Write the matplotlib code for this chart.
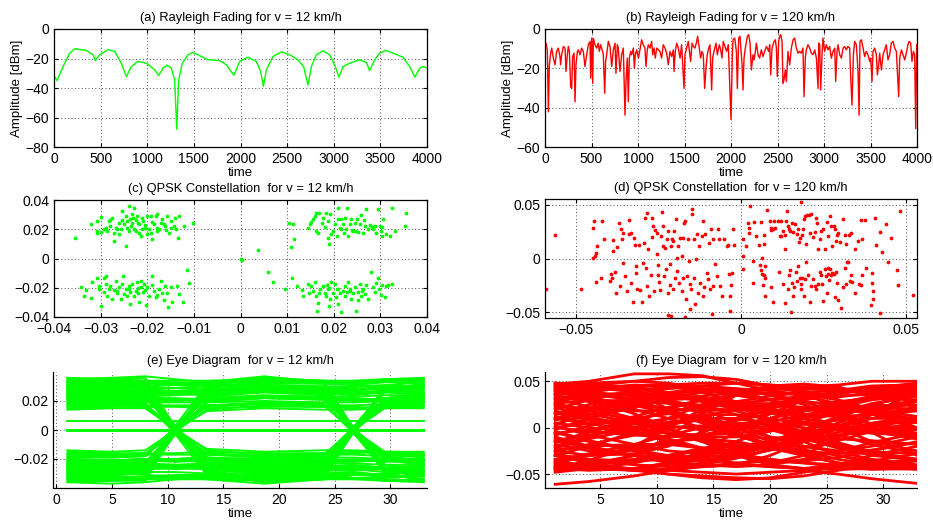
import numpy as np
import matplotlib
matplotlib.use('Agg')
import matplotlib.pyplot as plt
from matplotlib.ticker import FuncFormatter

plt.rcParams['font.family'] = ['Liberation Sans', 'DejaVu Sans']
plt.rcParams['font.size'] = 9.5
plt.rcParams['axes.unicode_minus'] = True

# (a) fading, v = 12 km/h  (time, dB)
fad12_t = [0, 32, 97, 168, 222, 347, 418, 443, 490, 579, 651, 722, 776, 829, 901, 990, 1080, 1122,
           1169, 1212, 1258, 1294, 1316, 1337, 1376, 1437, 1491, 1580, 1651, 1777, 1848, 1930, 1991,
           2080, 2170, 2216, 2245, 2277, 2349, 2438, 2527, 2617, 2677, 2724, 2760, 2813, 2885, 2956,
           3010, 3056, 3099, 3171, 3278, 3350, 3385, 3439, 3492, 3557, 3653, 3742, 3814, 3871, 3921,
           3957, 4000]
fad12_db = [-31.8, -35, -25.5, -16.4, -13.4, -14.5, -17.5, -21.4, -17.5, -14, -15.2, -23.2, -32.3,
            -25.5, -22, -23.2, -27.7, -31.6, -26.6, -24.5, -26.6, -34.5, -68, -34.5, -23.2, -17.5,
            -15.9, -18.6, -20.9, -21.4, -24.3, -31.4, -22, -19.1, -22, -28.9, -38.9, -27.7, -18.6,
            -15.5, -17.5, -20.9, -25.5, -38, -25.5, -17.5, -14.8, -17.5, -24.3, -32.7, -25.5, -23.2,
            -20.9, -22.7, -28.2, -20.9, -16.4, -14.5, -16.8, -19.1, -25.5, -32.7, -26.6, -25.5, -26.4]

# (b) fading, v = 120 km/h  (time, dB)
fad120_t = [0, 11, 25, 36, 47, 61, 72, 90, 108, 125, 143, 161, 168, 179, 197, 215, 226, 240, 251, 262,
            276, 287, 297, 312, 323, 333, 348, 358, 376, 394, 412, 430, 448, 466, 484, 491, 502, 513,
            520, 538, 556, 573, 584, 599, 609, 627, 642, 652, 663, 681, 699, 717, 735, 753, 763, 778,
            788, 806, 824, 842, 860, 871, 885, 896, 907, 921, 932, 950, 961, 971, 986, 1004, 1021,
            1039, 1057, 1075, 1086, 1100, 1111, 1129, 1147, 1158, 1172, 1186, 1201, 1219, 1236, 1254,
            1272, 1290, 1308, 1326, 1344, 1362, 1380, 1387, 1401, 1416, 1434, 1452, 1469, 1495, 1505,
            1523, 1541, 1552, 1566, 1581, 1595, 1613, 1631, 1641, 1659, 1674, 1688, 1702, 1717, 1731,
            1745, 1760, 1774, 1792, 1803, 1817, 1839, 1853, 1874, 1889, 1903, 1917, 1935, 1953, 1971,
            1989, 2000, 2015, 2022, 2040, 2058, 2068, 2083, 2097, 2111, 2119, 2129, 2140, 2154, 2176,
            2190, 2205, 2219, 2237, 2248, 2262, 2273, 2291, 2308, 2326, 2344, 2362, 2380, 2391, 2405,
            2416, 2427, 2441, 2463, 2477, 2488, 2498, 2513, 2524, 2534, 2549, 2559, 2570, 2584, 2595,
            2613, 2631, 2649, 2667, 2685, 2703, 2721, 2739, 2756, 2774, 2785, 2799, 2810, 2828, 2846,
            2864, 2882, 2900, 2918, 2936, 2943, 2954, 2964, 2979, 2989, 3007, 3025, 3043, 3061, 3079,
            3097, 3115, 3126, 3140, 3151, 3169, 3187, 3205, 3222, 3240, 3258, 3276, 3287, 3301, 3316,
            3330, 3348, 3366, 3377, 3387, 3402, 3420, 3437, 3455, 3473, 3491, 3502, 3516, 3527, 3545,
            3563, 3574, 3588, 3599, 3617, 3635, 3652, 3670, 3688, 3706, 3724, 3742, 3760, 3778, 3803,
            3814, 3832, 3850, 3868, 3885, 3903, 3914, 3932, 3946, 3961, 3975, 3986, 3997, 4000]
fad120_db = [-8.0, -7.2, -10.6, -42.1, -18.2, -12.3, -9.7, -14.8, -18.2, -11.4, -9.7, -14.0, -18.2,
             -13.1, -8.9, -9.7, -21.6, -13.1, -8.9, -11.4, -29.3, -30.2, -14.0, -12.3, -37.0, -18.2,
             -11.4, -10.6, -13.1, -9.7, -11.4, -19.1, -13.1, -8.0, -6.3, -25.0, -4.6, -27.6, -4.9,
             -8.0, -9.7, -7.2, -11.4, -8.0, -9.7, -13.1, -32.7, -16.5, -13.1, -6.3, -8.9, -19.1,
             -10.6, -7.2, -22.5, -8.0, -9.7, -21.6, -13.1, -9.7, -43.8, -26.7, -14.8, -37.0, -14.8,
             -11.4, -13.1, -9.7, -19.9, -13.1, -10.6, -14.8, -10.6, -5.5, -8.0, -9.7, -19.1, -10.6,
             -8.0, -9.7, -6.3, -13.1, -9.7, -14.8, -9.7, -10.6, -11.4, -14.8, -8.0, -9.7, -12.3,
             -18.2, -11.4, -14.0, -10.6, -21.6, -11.4, -7.2, -9.7, -14.8, -8.0, -30.2, -13.1, -9.7,
             -6.3, -10.6, -16.5, -7.2, -8.9, -9.7, -6.3, -3.7, -9.7, -14.8, -11.4, -13.1, -30.2,
             -19.9, -13.1, -9.7, -8.0, -31.0, -14.8, -11.4, -7.2, -13.1, -8.0, -10.6, -14.8, -6.3,
             -8.9, -11.4, -8.0, -31.9, -46.0, -12.3, -5.5, -4.6, -11.4, -30.2, -4.6, -3.7, -13.1,
             -18.2, -31.0, -14.8, -9.7, -3.7, -2.9, -7.2, -20.8, -13.1, -15.7, -11.4, -7.2, -13.1,
             -14.8, -10.6, -14.0, -11.4, -8.9, -9.7, -11.4, -8.0, -23.3, -9.7, -6.3, -5.5, -9.7,
             -24.2, -6.3, -3.7, -2.9, -6.3, -27.6, -25.9, -20.8, -26.7, -11.4, -18.2, -9.7, -5.5,
             -4.6, -9.7, -12.3, -11.4, -12.3, -9.7, -34.4, -14.8, -10.6, -8.0, -9.7, -12.3, -13.1,
             -10.6, -14.8, -30.2, -7.2, -8.0, -31.0, -13.1, -4.6, -11.4, -8.0, -10.6, -8.9, -14.8,
             -11.4, -9.7, -26.7, -11.4, -8.0, -13.1, -14.8, -9.7, -8.9, -10.6, -8.9, -9.7, -24.2,
             -38.7, -13.1, -6.3, -8.0, -21.6, -43.8, -6.3, -5.5, -9.7, -14.0, -11.4, -13.1, -16.5,
             -14.8, -26.7, -11.4, -9.7, -13.1, -23.3, -18.2, -12.3, -20.8, -13.1, -10.6, -8.0, -15.7,
             -13.1, -7.2, -6.3, -9.7, -11.4, -34.4, -14.8, -10.6, -13.1, -15.7, -12.3, -8.0, -6.3,
             -7.2, -16.5, -11.4, -13.1, -50.6, -8.0, -9.7]

# (c) constellation, v = 12 km/h  (I, Q in units of 1e-3)
con12 = [(-35.4, 14.3), (-32.1, 23.4), (-30.7, 25.7), (-30.0, 28.6), (-29.3, 20.0), (-30.7, 18.9),
         (-30.7, 17.3), (-30.0, 18.2), (-28.9, 20.7), (-28.2, 25.7), (-27.9, 26.1), (-27.5, 28.0),
         (-28.6, 18.9), (-27.1, 17.7), (-27.1, 12.0), (-26.8, 21.1), (-26.4, 20.0), (-26.1, 24.5),
         (-25.7, 20.0), (-25.4, 32.5), (-25.0, 23.4), (-24.6, 29.1), (-24.6, 8.6), (-24.3, 21.1),
         (-24.3, 25.7), (-23.9, 35.9), (-23.6, 26.8), (-23.2, 30.2), (-23.2, 24.5), (-22.9, 34.8),
         (-22.9, 20.0), (-22.5, 26.4), (-22.1, 29.1), (-21.8, 23.4), (-21.8, 17.7), (-21.4, 15.5),
         (-21.1, 20.0), (-21.1, 28.0), (-20.4, 21.1), (-20.0, 29.1), (-19.6, 20.0), (-19.3, 17.7),
         (-19.3, 29.1), (-18.9, 13.2), (-18.6, 23.4), (-18.2, 29.1), (-17.9, 21.1), (-17.9, 30.2),
         (-17.5, 20.0), (-17.1, 24.5), (-16.8, 26.8), (-16.4, 23.4), (-16.1, 22.3), (-15.7, 29.1),
         (-15.4, 17.7), (-15.0, 25.7), (-14.3, 22.3), (-14.1, 28.0), (-13.9, 20.0), (-13.2, 29.1),
         (-13.4, 13.9), (-12.1, 22.3), (-10.1, 24.1), (-23.5, 22.0), (-22.0, 24.0), (-21.0, 25.5),
         (-20.5, 23.0), (-24.0, 19.0), (-25.5, 26.5), (-19.0, 25.0), (-18.0, 19.0), (-26.0, 17.0),
         (-22.5, 18.5), (-20.0, 16.5), (-23.0, 28.0), (-28.0, 22.0), (-16.0, 19.5), (-15.0, 21.0),
         (-34.3, -19.8), (-33.6, -25.5), (-33.2, -21.6), (-32.1, -27.3), (-31.8, -15.9), (-30.7, -13.4),
         (-30.4, -19.1), (-30.4, -20.9), (-30.0, -32.7), (-29.3, -13.0), (-29.3, -22.7), (-28.9, -17.5),
         (-28.9, -11.8), (-28.6, -25.5), (-28.2, -20.9), (-27.9, -18.6), (-27.5, -27.7), (-27.1, -21.6),
         (-26.8, -15.2), (-26.4, -23.6), (-26.1, -19.8), (-25.7, -27.7), (-25.4, -17.5), (-25.1, -11.8),
         (-25.0, -24.3), (-24.6, -20.9), (-24.3, -25.5), (-23.9, -18.6), (-23.7, -31.1), (-23.6, -22.7),
         (-23.2, -17.5), (-22.9, -25.5), (-22.5, -22.0), (-22.3, -16.4), (-22.0, -23.6), (-21.8, -30.0),
         (-21.4, -19.8), (-21.3, -15.2), (-20.9, -23.2), (-20.6, -17.5), (-20.2, -31.8), (-20.0, -19.8),
         (-19.6, -25.5), (-18.9, -11.8), (-18.6, -22.0), (-18.2, -26.6), (-17.9, -25.0), (-17.5, -20.9),
         (-17.1, -15.2), (-16.8, -23.6), (-16.4, -28.2), (-16.1, -18.6), (-15.7, -23.6), (-15.5, -33.4),
         (-15.0, -19.8), (-14.6, -29.5), (-13.6, -18.6), (-13.2, -24.3), (-12.3, -29.5), (-11.4, -7.7),
         (-11.1, -16.8), (-24.0, -21.0), (-22.0, -20.0), (-20.5, -21.5), (-26.5, -22.5), (-19.0, -18.0),
         (0.0, 0.0), (0.3, -1.0), (3.8, 5.7), (5.9, -9.5), (6.9, -16.4), (10.4, 24.5), (11.3, 23.9),
         (11.5, 13.2), (10.8, 8.2), (11.1, -13.0), (9.5, -20.9),
         (14.5, 21.1), (14.9, 23.4), (15.2, 25.0), (15.6, 26.8), (15.9, 29.1), (16.3, 30.9), (16.3, 18.9),
         (16.6, 17.7), (16.9, 31.4), (17.4, 24.1), (17.8, 28.0), (18.1, 21.8), (18.4, 31.4), (18.8, 25.7),
         (18.9, 9.8), (19.1, 30.2), (18.8, 14.3), (19.5, 16.6), (19.9, 18.9), (20.2, 23.4), (20.6, 15.5),
         (20.9, 34.8), (20.9, 26.8), (21.3, 21.1), (21.6, 27.3), (21.6, 20.0), (22.0, 23.4), (22.2, 17.3),
         (22.4, 28.0), (22.7, 20.0), (22.9, 34.8), (23.1, 15.5), (23.4, 23.4), (23.8, 26.8), (23.9, 19.3),
         (24.1, 18.9), (24.5, 18.9), (24.5, 24.5), (24.9, 26.8), (25.2, 18.2), (25.6, 23.4), (25.9, 29.5),
         (26.3, 17.7), (26.5, 26.4), (26.6, 22.3), (26.9, 34.1), (27.4, 20.0), (27.7, 22.7), (28.1, 21.8),
         (28.4, 20.0), (28.8, 22.3), (29.1, 17.3), (29.5, 34.1), (29.9, 22.3), (30.2, 18.9), (30.4, 21.8),
         (30.6, 26.8), (30.4, 15.5), (31.3, 16.6), (32.0, 15.5), (32.5, 34.8), (33.1, 18.9), (35.2, 22.3),
         (35.4, 30.9),
         (12.2, -19.1), (13.1, -21.4), (13.4, -25.5), (14.5, -17.5), (14.6, -23.6), (15.2, -18.6),
         (15.6, -22.0), (15.9, -15.9), (16.1, -25.5), (16.6, -30.5), (16.8, -23.6), (17.0, -20.9),
         (16.4, -35.7), (17.8, -18.6), (18.1, -23.6), (18.4, -25.5), (18.6, -18.2), (18.8, -20.9),
         (18.9, -32.3), (19.1, -27.7), (19.5, -16.4), (19.9, -23.6), (20.2, -17.5), (20.4, -26.6),
         (20.8, -20.9), (20.9, -31.1), (21.3, -23.6), (21.6, -36.4), (22.0, -22.3), (22.4, -18.6),
         (22.5, -25.5), (22.9, -23.2), (23.1, -16.4), (23.4, -20.9), (23.8, -27.7), (24.1, -23.6),
         (24.5, -19.8), (24.7, -35.7), (25.1, -28.6), (25.2, -23.2), (25.6, -17.5), (25.9, -25.5),
         (26.3, -20.9), (26.6, -24.3), (26.9, -18.2), (27.4, -27.7), (27.9, -9.5), (28.4, -19.8),
         (28.8, -23.2), (29.1, -16.8), (29.5, -13.6), (29.6, -20.9), (30.1, -25.0), (30.4, -18.2),
         (30.9, -26.6), (31.3, -18.6), (31.6, -18.2), (32.5, -17.5), (21.0, -21.0), (23.5, -22.5),
         (19.0, -20.0), (26.0, -22.0)]

# (d) constellation, v = 120 km/h  (I, Q in units of 1e-3)
con120 = [(-59.1, -28.6), (-56.4, 21.7), (-48.5, -28.6), (-44.9, 28.9), (-44.7, 34.8), (-44.9, 0.9),
          (-44.2, 2.5), (-43.7, 11.8), (-43.9, 5.6), (-42.4, -18.6), (-42.0, 35.4), (-41.4, 18.0),
          (-44.1, -21.7), (-39.5, -14.6), (-39.7, -20.8), (-39.2, -18.0), (-38.9, 7.1), (-38.7, 17.1),
          (-38.2, -12.4), (-37.7, 11.2), (-37.9, -31.7), (-37.1, 32.9), (-36.7, -25.5), (-36.4, 27.3),
          (-35.9, 23.6), (-36.2, 18.0), (-35.9, -3.7), (-35.2, -16.1), (-34.6, -30.1), (-34.1, 36.0),
          (-34.1, 22.7), (-33.4, -23.0), (-33.3, 24.2), (-32.8, -41.0), (-32.4, 19.6), (-32.1, 12.4),
          (-31.9, -6.8), (-31.9, -13.7), (-31.6, -28.6), (-31.0, 12.7), (-30.6, -29.2), (-30.1, -41.0),
          (-29.8, -3.7), (-29.4, 14.9), (-29.0, 38.2), (-28.8, -8.4), (-28.4, 42.2), (-28.4, -25.5),
          (-28.1, 9.3), (-27.8, -35.4), (-27.4, -14.9), (-27.1, 20.2), (-26.9, 38.2), (-26.6, 30.4),
          (-26.3, -30.1), (-26.1, 26.7), (-25.6, 23.6), (-25.4, 4.0), (-25.3, -15.5), (-25.1, -6.2),
          (-24.8, -21.7), (-24.6, -29.2), (-24.3, 21.1), (-24.0, 43.5), (-23.7, 11.8), (-23.5, 30.4),
          (-23.3, -16.1), (-23.0, 10.2), (-22.7, -9.9), (-22.5, 18.0), (-22.0, 25.8), (-22.0, -31.7),
          (-21.5, -24.8), (-21.5, -5.3), (-21.2, 11.8), (-20.9, 18.0), (-20.7, 16.5), (-20.5, -28.0),
          (-20.3, 25.8), (-20.0, -17.7), (-19.7, 36.6), (-19.5, 0.9), (-19.3, -11.5), (-19.0, 11.8),
          (-18.7, -22.4), (-18.5, 19.6), (-18.0, -30.1), (-17.9, 2.5), (-17.7, 19.6), (-17.5, -18.6),
          (-17.3, 33.5), (-16.9, 35.1), (-16.7, -37.3), (-16.5, -16.1), (-16.0, 18.0), (-15.7, -2.2),
          (-15.5, -23.9), (-15.3, -28.6), (-14.9, 41.3), (-14.8, 46.0), (-14.4, 18.0), (-14.2, -18.6),
          (-13.9, -42.5), (-13.6, 0.0), (-13.4, 22.7), (-13.1, -31.7), (-12.6, 11.8), (-12.4, -23.0),
          (-11.9, 21.1), (-11.6, -34.8), (-11.4, 35.1), (-11.1, -27.0), (-10.8, 22.7), (-10.4, -13.7),
          (-9.9, -19.3), (-9.6, 14.9), (-9.4, -28.0), (-9.2, 27.3), (-8.9, -51.9), (-8.6, -25.5),
          (-8.4, 18.6), (-7.9, -5.3), (-7.4, -16.1), (-6.9, 27.3), (-6.6, 18.6), (-6.4, -25.5),
          (-5.9, -34.8), (-5.1, 18.0), (-4.3, 11.8), (-4.1, 12.4), (-3.8, -14.6), (-3.5, -34.8),
          (-3.1, -24.8), (-2.8, -13.7), (-3.3, -48.8), (-22.2, -52.8), (-21.2, -54.0), (-17.0, -55.0),
          (-15.5, -47.2), (-2.4, 27.3), (-2.1, 12.4), (0.6, 2.5), (0.6, 18.0), (1.6, 11.8), (2.6, 49.1),
          (2.1, 33.5), (2.3, 28.9), (2.4, 23.6), (3.6, -2.2), (4.0, 34.2), (4.6, 21.1), (5.4, 12.4),
          (5.9, 34.2), (6.2, 0.9), (6.9, 21.7), (7.0, 13.4), (7.2, -6.8), (8.0, 45.3), (8.7, 35.1),
          (9.0, 28.9), (9.2, 26.7), (9.7, 27.3), (10.0, 35.1), (10.2, 28.9), (11.2, 35.1), (11.7, 21.1),
          (12.2, 35.1), (12.2, 21.1), (12.7, 25.8), (13.2, 21.7), (13.4, 9.3), (13.7, 35.1), (14.0, 44.4),
          (14.2, 30.4), (14.4, 27.3), (14.7, 25.8), (15.3, 33.5), (15.8, 24.8), (16.2, 32.0), (16.8, 22.7),
          (17.3, 27.3), (17.5, 15.5), (17.8, 19.6), (18.3, 52.8), (18.5, 21.7), (18.8, 27.3), (19.1, 37.3),
          (19.5, 39.8), (19.8, 13.4), (20.1, 40.7), (20.5, 40.4), (20.8, 24.2), (21.3, 41.3), (21.8, 20.5),
          (22.3, 24.8), (22.8, 38.2), (23.1, 33.5), (23.3, 9.3), (23.8, 18.0), (24.3, 25.8), (24.8, 27.3),
          (25.4, 9.3), (25.9, 34.2), (26.4, 21.1), (26.9, 39.8), (27.2, 30.4), (27.6, 11.8), (28.2, 30.4),
          (28.4, 27.3), (28.9, 16.5), (29.2, 21.7), (29.4, 24.2), (29.9, 15.5), (30.9, 37.3), (31.4, 21.7),
          (31.9, 13.4), (32.6, 21.7), (33.4, 24.2), (34.4, 9.3), (35.5, 16.5), (36.3, 36.0), (36.5, 18.6),
          (37.5, 36.0), (40.5, 38.2), (41.0, 12.4), (42.0, 24.8), (42.8, 6.2), (44.0, 32.0), (45.5, 19.6),
          (48.3, 44.4), (0.6, -9.3), (3.6, -23.0), (5.7, -6.2), (6.0, -10.6), (6.2, -14.6), (6.5, -24.8),
          (7.0, -15.5), (7.2, -34.8), (7.2, -17.7), (9.2, -27.0), (9.7, -40.4), (11.4, -12.4),
          (12.7, -23.9), (13.4, -41.6), (14.2, -28.6), (14.5, -15.5), (14.7, -10.6), (15.3, -23.0),
          (15.8, -34.8), (16.1, -26.1), (16.5, -13.0), (16.8, -20.8), (17.3, -6.8), (17.8, -17.7),
          (18.1, -28.0), (18.3, -23.9), (18.5, -18.6), (19.1, -34.8), (19.3, -19.3), (19.8, -3.1),
          (20.3, -15.5), (20.8, -40.4), (21.3, -25.5), (21.8, -19.3), (22.3, -25.5), (22.8, -28.0),
          (23.3, -23.9), (23.8, -12.4), (24.1, -15.5), (24.6, -23.9), (24.8, -39.4), (25.4, -9.9),
          (25.6, -16.1), (25.9, -32.3), (26.2, -8.4), (26.4, -14.6), (26.6, -19.9), (26.9, -9.3),
          (27.2, -15.5), (27.6, -13.7), (28.2, -14.6), (28.6, -36.3), (28.9, -12.4), (29.2, -22.4),
          (29.4, -38.5), (30.2, -46.6), (30.9, -27.0), (31.4, -8.4), (31.9, -23.9), (32.2, -3.1),
          (32.4, -3.1), (32.9, -20.8), (33.4, -15.5), (33.6, -21.7), (34.4, -32.3), (35.7, -23.9),
          (36.3, -24.8), (36.7, -15.5), (38.0, -8.4), (39.7, -23.0), (39.7, -13.7), (40.0, -30.1),
          (40.0, -37.9), (39.5, -43.5), (42.0, -50.9), (44.6, -3.1), (47.1, -10.6), (47.6, -24.8),
          (52.1, -34.2), (15.1, -50.3)]

# (e) eye diagram, v = 12 km/h: traces sampled at eye12_t (values in 1e-3)
eye12_t = [1, 5, 8, 10.7, 13.5, 18.7, 24, 26.7, 29.5, 33]
eye12 = [
    [30, 31, 32, 31, 30, 31, 30, 30, 31, 30], [27, 28, 29, 29, 28, 30, 27, 1, -24, -28],
    [25, 26, 24, 0, -22, -25, -23, -1, 21, 25], [33, 34, 32, 2, -28, -33, -31, -30, -32, -31],
    [22, 23, 22, 1, -19, -22, -21, -20, -22, -21], [20, 21, 22, 21, 20, 22, 21, 1, -18, -21],
    [35, 36, 37, 35, 33, 34, 33, 33, 34, 35], [18, 19, 18, 0, -16, -19, -18, 0, 16, 18],
    [32, 33, 31, 1, -27, -31, -30, -29, -31, -32], [24, 24, 25, 25, 24, 26, 24, 1, -21, -24],
    [29, 30, 28, 27, 28, 30, 29, 29, 28, 29], [16, 17, 16, 1, -14, -17, -16, -15, -16, -17],
    [34, 35, 36, 1, -30, -36, -34, -1, 30, 34], [26, 27, 27, 27, 26, 28, 27, 26, 27, 26],
    [21, 21, 22, 22, 21, 23, 22, 1, -19, -21], [31, 32, 30, 1, -27, -30, -29, -1, 27, 31],
    [14, 15, 15, 0, -13, -15, -14, -14, -15, -15], [28, 29, 30, 31, 33, 37, 33, 31, 30, 29],
    [23, 24, 23, 24, 25, 27, 25, 1, -20, -23], [19, 20, 19, 19, 19, 20, 19, 19, 20, 19],
    [-31, -32, -33, -32, -31, -32, -31, -31, -32, -31], [-28, -29, -28, -1, 25, 28, 27, 1, -24, -28],
    [-25, -26, -25, -25, -24, -26, -25, 0, 22, 25], [-33, -34, -33, -2, 29, 33, 32, 31, 33, 32],
    [-22, -23, -22, -1, 19, 22, 21, 20, 22, 21], [-20, -21, -20, -20, -19, -21, -20, -1, 18, 20],
    [-36, -37, -36, -34, -33, -34, -33, -33, -34, -35], [-18, -19, -18, 0, 16, 19, 18, 0, -16, -18],
    [-30, -31, -30, -1, 27, 30, 29, 28, 30, 31], [-24, -25, -24, -24, -23, -25, -24, -1, 21, 24],
    [-27, -28, -27, -26, -27, -29, -28, -28, -27, -28], [-16, -17, -16, -1, 14, 17, 16, 15, 16, 17],
    [-34, -35, -35, -1, 30, 36, 34, 1, -30, -34], [-26, -27, -26, -27, -26, -28, -27, -26, -27, -26],
    [-21, -22, -21, -22, -21, -23, -22, -1, 19, 21], [-29, -30, -29, -1, 26, 29, 28, 1, -26, -29],
    [-14, -15, -14, 0, 13, 15, 14, 14, 15, 15], [-29, -30, -31, -32, -34, -37, -34, -31, -30, -29],
    [-23, -24, -23, -24, -25, -26, -25, -1, 20, 23], [-20, -21, -20, -20, -19, -20, -19, -19, -20, -20],
    [0, 0, 0, 0, 0, 0, 0, 0, 0, 0], [6, 6, 6, 6, 6, 6, 6, 6, 6, 6],
    [33, 33, 33, 32, 31, 32, 32, 32, 33, 33], [-33, -33, -32, -31, -31, -32, -32, -33, -33, -32],
    [26, 27, 26, 0, -23, -26, -25, -24, -26, -25], [-26, -27, -26, 0, 23, 26, 25, 24, 26, 25],
    [17, 18, 17, 17, 17, 18, 17, 0, -15, -17], [-17, -18, -17, -17, -17, -18, -17, 0, 15, 17],
    [35, 34, 33, 1, -29, -34, -33, -1, 30, 35], [-35, -34, -33, -1, 29, 34, 33, 1, -30, -35],
    [22, 22, 21, 21, 22, 23, 22, 22, 21, 22], [-22, -22, -21, -21, -22, -23, -22, -22, -21, -22],
    [31, 31, 30, 3, -25, -30, -29, 2, 27, 31], [-31, -31, -30, -3, 25, 30, 29, -2, -27, -31],
    [28, 28, 27, 26, 27, 29, 28, -2, -26, -29], [-28, -28, -27, -26, -27, -29, -28, 2, 26, 29],
    [24, 25, 24, -3, -22, -24, -23, -23, -24, -24], [-24, -25, -24, 3, 22, 24, 23, 23, 24, 24],
    [19, 19, 18, -2, -17, -19, -18, 2, 17, 19], [-19, -19, -18, 2, 17, 19, 18, -2, -17, -19],
    [32, 32, 33, 33, 32, 34, 32, -2, -28, -32], [-32, -32, -33, -33, -32, -34, -32, 2, 28, 32],
    [15, 16, 16, 16, 15, 16, 16, 16, 15, 16], [-15, -16, -16, -16, -15, -16, -16, -16, -15, -16],
    [36, 35, 34, -3, -31, -35, -34, -33, -35, -36], [-36, -35, -34, 3, 31, 35, 34, 33, 35, 36],
    [25, 25, 26, 26, 25, 27, 26, 25, 26, 25], [-25, -25, -26, -26, -25, -27, -26, -25, -26, -25],
    [23, 23, 22, 2, -20, -23, -22, -2, 20, 23], [-23, -23, -22, -2, 20, 23, 22, 2, -20, -23],
    [29, 29, 29, -2, -26, -29, -28, -27, -29, -28], [-29, -29, -29, 2, 26, 29, 28, 27, 29, 28],
    [21, 21, 20, 20, 21, 22, 21, 21, 20, 21], [-21, -21, -20, -20, -21, -22, -21, -21, -20, -21],
    [27, 26, 25, 25, 26, 27, 26, 26, 27, 27], [-27, -26, -25, -25, -26, -27, -26, -26, -27, -27],
    [17, 17, 18, -2, -16, -18, -17, -17, -18, -17], [-17, -17, -18, 2, 16, 18, 17, 17, 18, 17],
    [30, 30, 29, 29, 30, 31, 30, 2, -27, -30], [-30, -30, -29, -29, -30, -31, -30, -2, 27, 30],
    [34, 34, 34, 34, 34, 35, 34, 34, 35, 34], [-34, -34, -34, -34, -34, -35, -34, -34, -35, -34],
    [-1, -1, -1, -1, -1, -1, -1, -1, -1, -1]]

# (f) eye diagram, v = 120 km/h: traces sampled at eye120_t (values in 1e-3)
eye120_t = [1, 4, 8, 11, 14, 17, 20, 23, 26, 29, 33]
eye120 = [
    [48, 45, 38, 20, -5, -25, -38, -30, -10, 15, 40], [-45, -40, -30, -10, 15, 35, 44, 38, 20, -5, -30],
    [30, 38, 45, 47, 40, 25, 5, -15, -30, -38, -42], [-20, -10, 5, 20, 30, 35, 30, 15, 0, -15, -25],
    [10, 20, 30, 38, 42, 40, 30, 20, 15, 20, 30], [-35, -42, -45, -40, -25, -5, 15, 30, 40, 45, 46],
    [40, 30, 15, 0, -15, -30, -40, -44, -40, -30, -20], [0, 5, 10, 15, 10, 0, -10, -15, -10, 0, 10],
    [-10, -20, -30, -38, -42, -40, -30, -15, 0, 15, 28], [25, 15, 5, -5, -15, -20, -15, -5, 10, 25, 35],
    [45, 48, 50, 48, 42, 35, 30, 32, 38, 44, 47], [-40, -44, -46, -45, -42, -38, -36, -38, -42, -45, -44],
    [15, 25, 32, 30, 20, 5, -10, -20, -25, -20, -10], [-25, -30, -28, -20, -5, 10, 22, 28, 25, 15, 0],
    [35, 28, 20, 10, 0, -8, -12, -8, 0, 10, 20], [-5, -15, -25, -32, -35, -30, -20, -8, 5, 18, 30],
    [20, 30, 40, 44, 45, 42, 35, 25, 12, 0, -12], [-30, -20, -5, 10, 25, 38, 45, 47, 44, 35, 22],
    [5, 0, -5, -10, -8, 0, 10, 20, 28, 32, 30], [-45, -35, -20, 0, 20, 35, 42, 40, 30, 15, 0],
    [42, 44, 40, 30, 15, 0, -15, -28, -38, -43, -45], [-15, -5, 8, 18, 22, 18, 8, -5, -18, -28, -35],
    [28, 35, 38, 35, 28, 20, 15, 18, 25, 32, 38], [-38, -30, -22, -15, -12, -15, -22, -30, -38, -42, -44],
    [12, 5, -5, -15, -22, -25, -22, -15, -5, 5, 12], [-8, 2, 12, 22, 30, 35, 38, 36, 30, 20, 8],
    [38, 32, 25, 20, 18, 20, 25, 32, 38, 42, 44], [-28, -35, -40, -42, -40, -33, -24, -15, -8, -4, -2],
    [22, 12, 0, -12, -22, -30, -35, -36, -32, -25, -15], [-42, -45, -44, -38, -28, -15, 0, 12, 22, 30, 35],
    [47, 50, 58, 58, 56, 48, 40, 35, 33, 38, 45], [-61, -58, -52, -46, -42, -40, -42, -44, -45, -44, -42],
    [-30, -38, -45, -50, -54, -56, -54, -48, -42, -38, -35], [-40, -42, -44, -46, -48, -50, -48, -46, -50, -55, -60],
    [44, 42, 40, 42, 45, 48, 46, 42, 40, 42, 48], [2, -8, -18, -25, -28, -25, -15, -2, 12, 25, 36],
    [-18, -25, -30, -30, -25, -15, -2, 10, 18, 22, 20], [32, 22, 10, 2, -2, 2, 10, 18, 22, 20, 12],
    [-2, 10, 22, 32, 38, 40, 36, 28, 16, 4, -8], [18, 10, 4, 0, 2, 8, 15, 20, 20, 15, 8],
    [-22, -12, -2, 5, 8, 5, -2, -12, -22, -30, -34], [8, 18, 26, 28, 24, 14, 2, -10, -20, -26, -28],
    [-12, -22, -30, -35, -36, -32, -24, -12, 2, 14, 22], [-35, -28, -18, -8, 0, 5, 5, 0, -8, -18, -28],
    [26, 30, 28, 20, 8, -6, -18, -26, -28, -24, -16], [-48, -44, -38, -30, -22, -18, -20, -26, -34, -40, -44],
    [40, 36, 30, 26, 24, 26, 30, 34, 38, 40, 42],
    [46, 40, 30, 18, 5, -8, -20, -30, -38, -42, -44], [-46, -40, -30, -18, -5, 8, 20, 30, 38, 42, 44],
    [36, 42, 46, 45, 38, 28, 16, 6, 0, -2, 0], [-36, -42, -46, -45, -38, -28, -16, -6, 0, 2, 0],
    [4, 14, 24, 30, 32, 28, 20, 10, 2, -4, -6], [-4, -14, -24, -30, -32, -28, -20, -10, -2, 4, 6],
    [16, 8, 0, -6, -10, -10, -4, 6, 16, 26, 34], [-16, -8, 0, 6, 10, 10, 4, -6, -16, -26, -34],
    [44, 46, 44, 38, 30, 22, 18, 20, 26, 34, 40], [-44, -46, -44, -38, -30, -22, -18, -20, -26, -34, -40],
    [24, 20, 18, 18, 22, 28, 34, 38, 40, 38, 34], [-24, -20, -18, -18, -22, -28, -34, -38, -40, -38, -34],
    [-6, -2, 4, 10, 14, 14, 10, 4, -2, -6, -8], [10, 4, -2, -6, -8, -6, -2, 4, 8, 10, 10],
    [34, 30, 24, 16, 8, 2, -2, -4, -2, 4, 12], [-34, -30, -24, -16, -8, -2, 2, 4, 2, -4, -12],
    [42, 38, 34, 32, 34, 38, 42, 44, 42, 36, 28], [-42, -38, -34, -32, -34, -38, -42, -44, -42, -36, -28],
    [-26, -18, -8, 2, 12, 20, 24, 22, 14, 4, -6], [26, 18, 8, -2, -12, -20, -24, -22, -14, -4, 6],
    [48, 46, 42, 36, 30, 26, 26, 30, 36, 42, 46], [-42, -40, -36, -30, -24, -20, -20, -24, -30, -36, -42],
    [14, 22, 30, 36, 40, 42, 40, 34, 26, 16, 6], [-14, -22, -30, -36, -40, -42, -40, -34, -26, -16, -6],
    [0, -4, -8, -10, -8, -2, 6, 14, 20, 24, 24], [30, 34, 36, 34, 30, 24, 18, 14, 12, 14, 18],
    [-30, -34, -36, -34, -30, -24, -18, -14, -12, -14, -18], [40, 45, 50, 54, 55, 52, 45, 38, 34, 36, 42],
    [-38, -42, -46, -50, -52, -54, -55, -52, -46, -40, -36], [36, 40, 44, 46, 48, 48, 46, 44, 46, 50, 50]]

# tick positions
ticks_a_x = [0, 500, 1000, 1500, 2000, 2500, 3000, 3500, 4000]
ticks_a_y = [-80, -60, -40, -20, 0]
ticks_b_y = [-60, -40, -20, 0]
ticks_c_x = [-0.04, -0.03, -0.02, -0.01, 0, 0.01, 0.02, 0.03, 0.04]
ticks_c_y = [-0.04, -0.02, 0, 0.02, 0.04]
ticks_d = [-0.05, 0, 0.05]
ticks_e_x = [0, 5, 10, 15, 20, 25, 30]
ticks_e_y = [-0.02, 0, 0.02]
ticks_f_x = [5, 10, 15, 20, 25, 30]

GREEN = (0, 1, 0)
RED = (1, 0, 0)
fmt = FuncFormatter(lambda v, p: ('%g' % v).replace('-', '\u2212'))


def style(ax, box=True):
    ax.grid(True, linestyle=(0, (1, 2.5)), color='0.3', linewidth=0.7)
    ax.tick_params(direction='in', length=3, width=0.8, top=box, right=box, labelsize=10)
    for s in ax.spines.values():
        s.set_linewidth(0.9)
    if not box:
        ax.spines['top'].set_visible(False)
        ax.spines['right'].set_visible(False)
    ax.xaxis.set_major_formatter(fmt)
    ax.yaxis.set_major_formatter(fmt)


W, H = 933, 521
fig = plt.figure(figsize=(W / 100, H / 100), dpi=100)


def add(x0, y0, x1, y1):
    return fig.add_axes([x0 / W, 1 - y1 / H, (x1 - x0) / W, (y1 - y0) / H])


# (a)
ax = add(54, 29, 427, 147)
ax.plot(fad12_t, fad12_db, color=GREEN, lw=1)
ax.set_xlim(0, 4000)
ax.set_ylim(-80, 0)
ax.set_xticks(ticks_a_x)
ax.set_yticks(ticks_a_y)
style(ax)
ax.set_title('(a) Rayleigh Fading for v = 12 km/h', fontsize=9.3, pad=6)
ax.set_xlabel('time', fontsize=9.5, labelpad=1)
ax.set_ylabel('Amplitude [dBm]', fontsize=9.5, labelpad=2)

# (b)
ax = add(545, 29, 917, 147)
ax.plot(fad120_t, fad120_db, color=RED, lw=1)
ax.set_xlim(0, 4000)
ax.set_ylim(-60, 0)
ax.set_xticks(ticks_a_x)
ax.set_yticks(ticks_b_y)
style(ax)
ax.set_title('(b) Rayleigh Fading for v = 120 km/h', fontsize=9.3, pad=6)
ax.set_xlabel('time', fontsize=9.5, labelpad=1)
ax.set_ylabel('Amplitude [dBm]', fontsize=9.5, labelpad=2)

# (c)
c = np.array(con12) * 1e-3
ax = add(54, 200, 427, 317)
ax.plot(c[:, 0], c[:, 1], '.', color=GREEN, ms=3.4)
ax.set_xlim(-0.04, 0.04)
ax.set_ylim(-0.04, 0.04)
ax.set_xticks(ticks_c_x)
ax.set_yticks(ticks_c_y)
style(ax)
ax.set_title('(c) QPSK Constellation  for v = 12 km/h', fontsize=9.3, pad=6)

# (d)
d = np.array(con120) * 1e-3
ax = add(545, 199, 917, 318)
ax.plot(d[:, 0], d[:, 1], '.', color=RED, ms=3.4)
ax.set_xlim(-0.0594, 0.0533)
ax.set_ylim(-0.0555, 0.0556)
ax.set_xticks(ticks_d)
ax.set_yticks(ticks_d)
style(ax)
ax.set_title('(d) QPSK Constellation  for v = 120 km/h', fontsize=9.3, pad=6)

# (e)
ax = add(53, 372, 427, 488)
for tr in eye12:
    ax.plot(eye12_t, np.array(tr) * 1e-3, color=GREEN, lw=1.4)
ax.set_xlim(-0.3, 33.3)
ax.set_ylim(-0.04, 0.04)
ax.set_xticks(ticks_e_x)
ax.set_yticks(ticks_e_y)
style(ax, box=False)
ax.set_title('(e) Eye Diagram  for v = 12 km/h', fontsize=9.3, pad=6)
ax.set_xlabel('time', fontsize=9.5, labelpad=1)

# (f)
ax = add(545, 372, 917, 488)
for tr in eye120:
    ax.plot(eye120_t, np.array(tr) * 1e-3, color=RED, lw=2.0)
ax.set_xlim(0.1, 33)
ax.set_ylim(-0.065, 0.06)
ax.set_xticks(ticks_f_x)
ax.set_yticks(ticks_d)
style(ax, box=False)
ax.set_title('(f) Eye Diagram  for v = 120 km/h', fontsize=9.3, pad=6)
ax.set_xlabel('time', fontsize=9.5, labelpad=1)

fig.savefig('out.png', dpi=100)
